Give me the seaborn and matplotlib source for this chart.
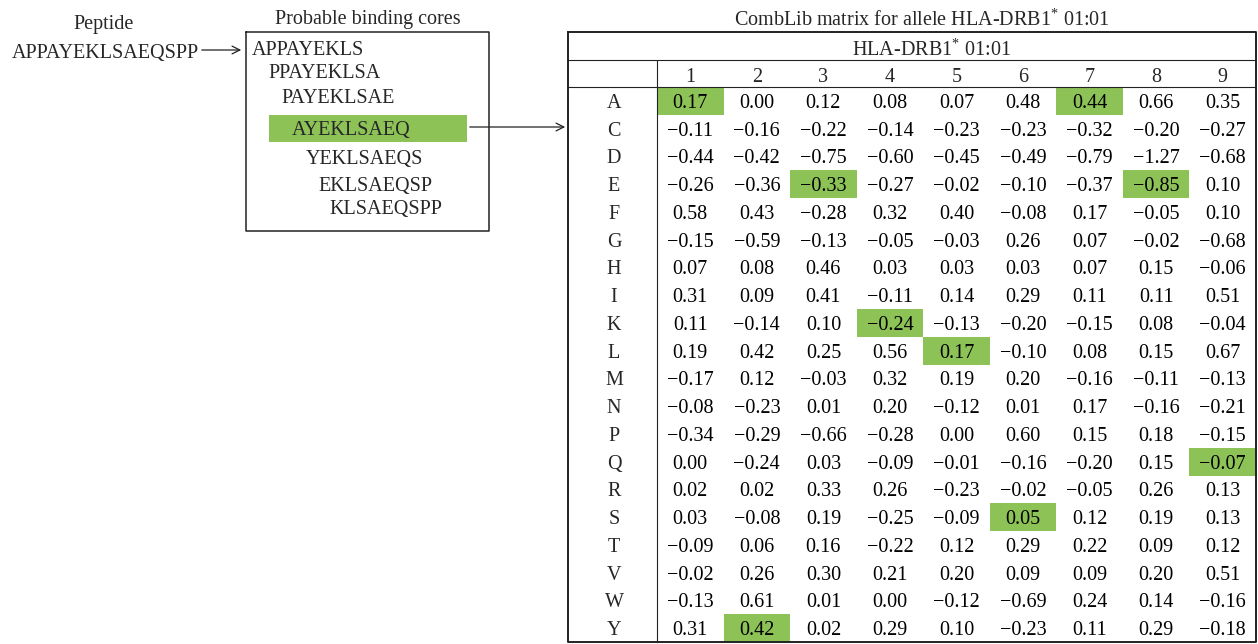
import numpy as np
import pandas as pd
import seaborn as sns
import matplotlib.pyplot as plt
from matplotlib.colors import ListedColormap

sns.set_theme(style="white")
plt.rcParams['font.family'] = ['Liberation Serif', 'DejaVu Serif']
plt.rcParams['mathtext.fontset'] = 'custom'
plt.rcParams['mathtext.rm'] = 'Liberation Serif'

# peptide and its 9-mer binding cores
peptide = "APPAYEKLSAEQSPP"
cores = ["APPAYEKLS", "PPAYEKLSA", "PAYEKLSAE", "AYEKLSAEQ",
         "YEKLSAEQS", "EKLSAEQSP", "KLSAEQSPP"]
best_core = "AYEKLSAEQ"

residues = ["A", "C", "D", "E", "F", "G", "H", "I", "K", "L",
            "M", "N", "P", "Q", "R", "S", "T", "V", "W", "Y"]
positions = [1, 2, 3, 4, 5, 6, 7, 8, 9]

# CombLib scores, one list per core position (rows follow `residues`)
pos1 = [0.17, -0.11, -0.44, -0.26, 0.58, -0.15, 0.07, 0.31, 0.11, 0.19,
        -0.17, -0.08, -0.34, 0.00, 0.02, 0.03, -0.09, -0.02, -0.13, 0.31]
pos2 = [0.00, -0.16, -0.42, -0.36, 0.43, -0.59, 0.08, 0.09, -0.14, 0.42,
        0.12, -0.23, -0.29, -0.24, 0.02, -0.08, 0.06, 0.26, 0.61, 0.42]
pos3 = [0.12, -0.22, -0.75, -0.33, -0.28, -0.13, 0.46, 0.41, 0.10, 0.25,
        -0.03, 0.01, -0.66, 0.03, 0.33, 0.19, 0.16, 0.30, 0.01, 0.02]
pos4 = [0.08, -0.14, -0.60, -0.27, 0.32, -0.05, 0.03, -0.11, -0.24, 0.56,
        0.32, 0.20, -0.28, -0.09, 0.26, -0.25, -0.22, 0.21, 0.00, 0.29]
pos5 = [0.07, -0.23, -0.45, -0.02, 0.40, -0.03, 0.03, 0.14, -0.13, 0.17,
        0.19, -0.12, 0.00, -0.01, -0.23, -0.09, 0.12, 0.20, -0.12, 0.10]
pos6 = [0.48, -0.23, -0.49, -0.10, -0.08, 0.26, 0.03, 0.29, -0.20, -0.10,
        0.20, 0.01, 0.60, -0.16, -0.02, 0.05, 0.29, 0.09, -0.69, -0.23]
pos7 = [0.44, -0.32, -0.79, -0.37, 0.17, 0.07, 0.07, 0.11, -0.15, 0.08,
        -0.16, 0.17, 0.15, -0.20, -0.05, 0.12, 0.22, 0.09, 0.24, 0.11]
pos8 = [0.66, -0.20, -1.27, -0.85, -0.05, -0.02, 0.15, 0.11, 0.08, 0.15,
        -0.11, -0.16, 0.18, 0.15, 0.26, 0.19, 0.09, 0.20, 0.14, 0.29]
pos9 = [0.35, -0.27, -0.68, 0.10, 0.10, -0.68, -0.06, 0.51, -0.04, 0.67,
        -0.13, -0.21, -0.15, -0.07, 0.13, 0.13, 0.12, 0.51, -0.16, -0.18]

GREEN = "#8dc257"
FS = 14.5

scores = pd.DataFrame(dict(zip(positions, [pos1, pos2, pos3, pos4, pos5,
                                           pos6, pos7, pos8, pos9])),
                      index=residues)
# cells used by the best core get highlighted
highlight = pd.DataFrame(0, index=residues, columns=positions)
for p, aa in zip(positions, best_core):
    highlight.loc[aa, p] = 1
labels = scores.map(lambda v: f"{v:.2f}".replace("-", "\u2212"))

W, H = 1258, 644
fig = plt.figure(figsize=(W / 100, H / 100), dpi=100)

# table geometry in pixels
tx0, tx1 = 568, 1256
ty0, ty1 = 32, 642
cx0 = 657
hy1, hy2 = 60, 87

ax = fig.add_axes([cx0 / W, (H - ty1) / H, (tx1 - cx0) / W, (ty1 - hy2) / H])
sns.heatmap(highlight, ax=ax, cmap=ListedColormap(["white", GREEN]),
            vmin=0, vmax=1, cbar=False, annot=labels, fmt="",
            xticklabels=False, yticklabels=False,
            annot_kws={"fontsize": FS, "color": "black", "va": "center_baseline"})
ax.set_xlabel("")
ax.set_ylabel("")

# overlay in pixel coordinates for everything around the heatmap
ov = fig.add_axes([0, 0, 1, 1])
ov.set_xlim(0, W)
ov.set_ylim(H, 0)
ov.axis("off")
ov.patch.set_alpha(0)

# table frame
ov.plot([tx0, tx1, tx1, tx0, tx0], [ty0, ty0, ty1, ty1, ty0], color="#222", lw=1.4)
ov.plot([tx0, tx1], [hy1, hy1], color="#222", lw=0.8)
ov.plot([tx0, tx1], [hy2, hy2], color="#222", lw=0.8)
ov.plot([cx0, cx0], [hy1, ty1], color="#222", lw=0.8)

colw = (tx1 - cx0) / len(positions)
rowh = (ty1 - hy2) / len(residues)
for i, p in enumerate(positions):
    ov.text(cx0 + colw * (i + 0.5), (hy1 + hy2) / 2 + 1, str(p), ha="center",
            va="center_baseline", fontsize=FS)
for j, aa in enumerate(residues):
    ov.text(614, hy2 + rowh * (j + 0.5), aa, ha="center", va="center_baseline",
            fontsize=FS)

ov.text(932, (ty0 + hy1) / 2 + 1, "HLA-DRB1$^{*}$ 01:01", ha="center",
        va="center_baseline", fontsize=FS)
ov.text(922, 17, "CombLib matrix for allele HLA-DRB1$^{*}$ 01:01", ha="center",
        va="center_baseline", fontsize=FS)

# left panel: peptide and binding cores
ov.text(104, 24, "Peptide", ha="center", va="center", fontsize=FS)
ov.text(12, 51, peptide, ha="left", va="center_baseline", fontsize=FS)
ov.annotate("", xy=(244, 50), xytext=(199, 50),
            arrowprops=dict(arrowstyle="->", lw=0.9, color="#222", mutation_scale=14))

bx0, bx1, by0, by1 = 246, 489, 32, 231
ov.plot([bx0, bx1, bx1, bx0, bx0], [by0, by0, by1, by1, by0], color="#222", lw=1.1)
ov.text((bx0 + bx1) / 2, 17, "Probable binding cores", ha="center",
        va="center_baseline", fontsize=FS)

core_x = [252, 268, 281, 292, 306, 318, 329]
core_y = [48, 71, 96, 128, 157, 184, 207]
for c, x, y in zip(cores, core_x, core_y):
    if c == best_core:
        ov.add_patch(plt.Rectangle((269, y - 13), 198, 27, color=GREEN, lw=0))
        ov.annotate("", xy=(568, y - 1), xytext=(467, y - 1),
                    arrowprops=dict(arrowstyle="->", lw=0.9, color="#222",
                                    mutation_scale=14))
    ov.text(x, y, c, ha="left", va="center_baseline", fontsize=FS)

fig.savefig("out.png", dpi=100)
